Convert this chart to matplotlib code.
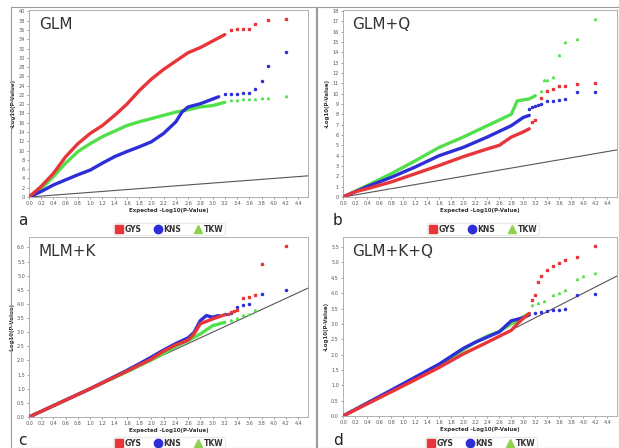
import matplotlib.pyplot as plt
from matplotlib.lines import Line2D
from matplotlib.patches import Rectangle

W, H = 619, 448

RED = '#e8353a'
BLUE = '#2e2ed6'
GREEN = '#52e04a'
LEG_GREEN = '#8fd14f'

# ---- GLM ----
glm_gys_x = [0, 0.2, 0.4, 0.6, 0.8, 1.0, 1.2, 1.4, 1.6, 1.8, 2.0, 2.2, 2.4, 2.6, 2.8, 3.0, 3.2]
glm_gys_y = [0, 2.3, 5.1, 8.7, 11.5, 13.7, 15.4, 17.6, 20.0, 22.9, 25.4, 27.5, 29.3, 31.1, 32.2, 33.6, 35.0]
glm_gys_tx = [3.3, 3.4, 3.5, 3.6, 3.7, 3.9, 4.2]
glm_gys_ty = [35.9, 36.1, 36.2, 36.3, 37.2, 38.2, 38.4]
glm_kns_x = [0, 0.2, 0.4, 0.6, 0.8, 1.0, 1.2, 1.4, 1.6, 1.8, 2.0, 2.2, 2.4, 2.5, 2.6, 2.8, 3.0, 3.1]
glm_kns_y = [0, 1.2, 2.6, 3.7, 4.8, 5.8, 7.3, 8.7, 9.8, 10.8, 11.9, 13.7, 16.2, 18.3, 19.4, 20.1, 21.1, 21.6]
glm_kns_tx = [3.2, 3.3, 3.4, 3.5, 3.6, 3.7, 3.8, 3.9, 4.2]
glm_kns_ty = [22.1, 22.2, 22.3, 22.4, 22.5, 23.3, 24.9, 28.3, 31.3]
glm_tkw_x = [0, 0.2, 0.4, 0.6, 0.8, 1.0, 1.2, 1.4, 1.6, 1.8, 2.0, 2.2, 2.4, 2.6, 2.8, 3.0, 3.2]
glm_tkw_y = [0, 1.8, 4.4, 7.3, 9.8, 11.5, 13.0, 14.2, 15.4, 16.2, 16.9, 17.6, 18.3, 18.8, 19.4, 19.7, 20.4]
glm_tkw_tx = [3.3, 3.4, 3.5, 3.6, 3.7, 3.8, 3.9, 4.2]
glm_tkw_ty = [20.9, 21.0, 21.1, 21.1, 21.2, 21.3, 21.3, 21.8]

# ---- GLM+Q ----
glmq_gys_x = [0, 0.2, 0.4, 0.8, 1.2, 1.6, 2.0, 2.4, 2.6, 2.8, 3.0, 3.1]
glmq_gys_y = [0, 0.5, 0.8, 1.45, 2.25, 3.05, 3.9, 4.65, 5.0, 5.8, 6.3, 6.6]
glmq_gys_tx = [3.15, 3.2, 3.3, 3.4, 3.5, 3.6, 3.7, 3.9, 4.2]
glmq_gys_ty = [7.3, 7.5, 9.6, 10.3, 10.5, 10.7, 10.7, 10.9, 11.0]
glmq_kns_x = [0, 0.4, 0.8, 1.2, 1.6, 2.0, 2.4, 2.8, 3.0, 3.1]
glmq_kns_y = [0, 1.0, 1.9, 2.9, 4.0, 4.8, 5.8, 6.9, 7.7, 7.9]
glmq_kns_tx = [3.1, 3.15, 3.2, 3.25, 3.3, 3.4, 3.5, 3.6, 3.7, 3.9, 4.2]
glmq_kns_ty = [8.5, 8.7, 8.8, 8.9, 9.0, 9.3, 9.3, 9.35, 9.5, 10.2, 10.2]
glmq_tkw_x = [0, 0.4, 0.8, 1.2, 1.6, 2.0, 2.4, 2.8, 2.9, 3.1, 3.2]
glmq_tkw_y = [0, 1.1, 2.25, 3.5, 4.8, 5.8, 6.9, 8.0, 9.3, 9.5, 9.8]
glmq_tkw_tx = [3.3, 3.35, 3.4, 3.5, 3.6, 3.7, 3.9, 4.2]
glmq_tkw_ty = [10.3, 11.3, 11.3, 11.6, 13.7, 15.0, 15.3, 17.2]

# ---- MLM+K ----
mlmk_gys_x = [0, 1.0, 1.6, 2.0, 2.2, 2.4, 2.6, 2.7, 2.8, 3.0, 3.2]
mlmk_gys_y = [0, 1.0, 1.62, 2.05, 2.33, 2.55, 2.72, 2.95, 3.3, 3.47, 3.62]
mlmk_gys_tx = [3.25, 3.3, 3.35, 3.4, 3.5, 3.6, 3.7, 3.8, 4.2]
mlmk_gys_ty = [3.66, 3.7, 3.75, 3.8, 4.2, 4.24, 4.3, 5.4, 6.04]
mlmk_kns_x = [0, 1.0, 1.6, 1.8, 2.0, 2.2, 2.4, 2.6, 2.7, 2.8, 2.9, 3.0, 3.1]
mlmk_kns_y = [0, 1.0, 1.65, 1.88, 2.12, 2.37, 2.6, 2.8, 3.0, 3.41, 3.59, 3.53, 3.59]
mlmk_kns_tx = [3.2, 3.3, 3.4, 3.5, 3.6, 3.8, 4.2]
mlmk_kns_ty = [3.63, 3.68, 3.9, 3.95, 4.0, 4.34, 4.48]
mlmk_tkw_x = [0, 1.0, 1.6, 2.0, 2.2, 2.4, 2.6, 2.8, 3.0, 3.2]
mlmk_tkw_y = [0, 1.0, 1.6, 2.02, 2.25, 2.5, 2.7, 2.94, 3.23, 3.35]
mlmk_tkw_tx = [3.3, 3.4, 3.5, 3.6, 3.7]
mlmk_tkw_ty = [3.42, 3.5, 3.6, 3.65, 3.77]

# ---- GLM+K+Q ----
glmkq_gys_x = [0, 1.0, 1.6, 2.0, 2.4, 2.8, 2.9, 3.0, 3.1]
glmkq_gys_y = [0, 0.98, 1.58, 2.02, 2.4, 2.79, 3.0, 3.18, 3.34]
glmkq_gys_tx = [3.15, 3.2, 3.25, 3.3, 3.4, 3.5, 3.6, 3.7, 3.9, 4.2]
glmkq_gys_ty = [3.78, 3.95, 4.38, 4.55, 4.77, 4.88, 4.99, 5.08, 5.18, 5.54]
glmkq_kns_x = [0, 1.0, 1.6, 2.0, 2.2, 2.4, 2.6, 2.8, 3.0, 3.1]
glmkq_kns_y = [0, 1.05, 1.69, 2.2, 2.4, 2.57, 2.74, 3.1, 3.2, 3.29]
glmkq_kns_tx = [3.2, 3.3, 3.4, 3.5, 3.6, 3.7, 3.9, 4.2]
glmkq_kns_ty = [3.35, 3.4, 3.42, 3.45, 3.45, 3.5, 3.95, 3.98]
glmkq_tkw_x = [0, 1.0, 1.6, 2.0, 2.2, 2.4, 2.6, 2.8, 3.0, 3.1]
glmkq_tkw_y = [0, 1.02, 1.66, 2.15, 2.4, 2.6, 2.75, 3.0, 3.23, 3.34]
glmkq_tkw_tx = [3.15, 3.25, 3.35, 3.5, 3.6, 3.7, 3.9, 4.0, 4.2]
glmkq_tkw_ty = [3.6, 3.67, 3.76, 3.95, 4.02, 4.1, 4.46, 4.55, 4.66]

x_ticks = [round(0.2 * i, 1) for i in range(23)]
traits = ['GYS', 'KNS', 'TKW']


def box(l, t, r, b):
    return [l / W, 1 - b / H, (r - l) / W, (b - t) / H]


fig = plt.figure(figsize=(W / 100, H / 100), dpi=100)
fig.patch.set_facecolor('white')

# panel frames
for (l, t, r, b) in [(11, 7, 316, 448), (317, 7, 619, 448)]:
    fig.add_artist(Rectangle((l / W, 1 - b / H), (r - l) / W, (b - t) / H,
                             transform=fig.transFigure, fill=False,
                             edgecolor='#9a9a9a', lw=0.8))

panels = [
    ('GLM', (29, 10, 308, 197), 40.3, list(range(0, 41, 2)), False, 'a', (18, 220), (169, 229),
     [(glm_tkw_x, glm_tkw_y, glm_tkw_tx, glm_tkw_ty),
      (glm_kns_x, glm_kns_y, glm_kns_tx, glm_kns_ty),
      (glm_gys_x, glm_gys_y, glm_gys_tx, glm_gys_ty)]),
    ('GLM+Q', (343, 10, 617, 197), 18.1, list(range(0, 19)), False, 'b', (333, 220), (483, 229),
     [(glmq_tkw_x, glmq_tkw_y, glmq_tkw_tx, glmq_tkw_ty),
      (glmq_kns_x, glmq_kns_y, glmq_kns_tx, glmq_kns_ty),
      (glmq_gys_x, glmq_gys_y, glmq_gys_tx, glmq_gys_ty)]),
    ('MLM+K', (29, 237, 308, 417), 6.37, [0.5 * i for i in range(13)], True, 'c', (18, 440), (169, 443),
     [(mlmk_tkw_x, mlmk_tkw_y, mlmk_tkw_tx, mlmk_tkw_ty),
      (mlmk_kns_x, mlmk_kns_y, mlmk_kns_tx, mlmk_kns_ty),
      (mlmk_gys_x, mlmk_gys_y, mlmk_gys_tx, mlmk_gys_ty)]),
    ('GLM+K+Q', (343, 237, 617, 416), 5.83, [0.5 * i for i in range(12)], True, 'd', (333, 440), (481, 443),
     [(glmkq_tkw_x, glmkq_tkw_y, glmkq_tkw_tx, glmkq_tkw_ty),
      (glmkq_kns_x, glmkq_kns_y, glmkq_kns_tx, glmkq_kns_ty),
      (glmkq_gys_x, glmkq_gys_y, glmkq_gys_tx, glmkq_gys_ty)]),
]

colors = [GREEN, BLUE, RED]
tail_markers = ['^', 'o', 's']

for title, pbox, ymax, yticks, decimals, letter, lpos, legpos, series in panels:
    ax = fig.add_axes(box(*pbox))
    for (lx, ly, tx, ty), c, m in zip(series, colors, tail_markers):
        ax.plot(lx, ly, color=c, lw=2.4, solid_joinstyle='round', solid_capstyle='round', zorder=3)
        ax.plot(tx, ty, ls='none', marker=m, ms=1.5, color=c, mec=c, zorder=3)
    ax.axline((0, 0), slope=1, color='#555555', lw=0.8, zorder=2)
    ax.set_xticks(x_ticks)
    ax.set_xticklabels([f'{v:.1f}' for v in x_ticks])
    ax.set_yticks(yticks)
    if decimals:
        ax.set_yticklabels([f'{v:.1f}' for v in yticks])
    else:
        ax.set_yticklabels([str(v) for v in yticks])
    ax.set_xlim(0, 4.56)
    ax.set_ylim(0, ymax)
    ax.tick_params(labelsize=3.5, length=1.5, width=0.4, pad=1.5, colors='#555555')
    for s in ax.spines.values():
        s.set_color('#b0b0b0')
        s.set_linewidth(0.7)
    ax.set_xlabel('Expected -Log10(P-Value)', fontsize=4, fontweight='bold', labelpad=1.5, color='#333333')
    ax.set_ylabel('-Log10(P-Value)', fontsize=4, fontweight='bold', labelpad=2, color='#333333')
    ax.text(0.035, 0.92, title, transform=ax.transAxes, fontsize=11, color='#333333', va='center')

    fig.text(lpos[0] / W, 1 - lpos[1] / H, letter, fontsize=11, color='#222222', va='center')

    handles = [Line2D([], [], ls='none', marker='s', ms=6, color=RED),
               Line2D([], [], ls='none', marker='o', ms=6, color=BLUE),
               Line2D([], [], ls='none', marker='^', ms=6, color=LEG_GREEN)]
    leg = fig.legend(handles, traits, loc='center', bbox_to_anchor=(legpos[0] / W, 1 - legpos[1] / H),
                     ncol=3, fontsize=5.5, frameon=True, handletextpad=0.3, columnspacing=1.6,
                     borderpad=0.2, handlelength=1.0)
    leg.get_frame().set_facecolor('white')
    leg.get_frame().set_edgecolor('#e6e6e6')
    for t in leg.get_texts():
        t.set_fontweight('bold')
        t.set_color('#333333')

fig.savefig('out.png', dpi=100, facecolor=fig.get_facecolor())
